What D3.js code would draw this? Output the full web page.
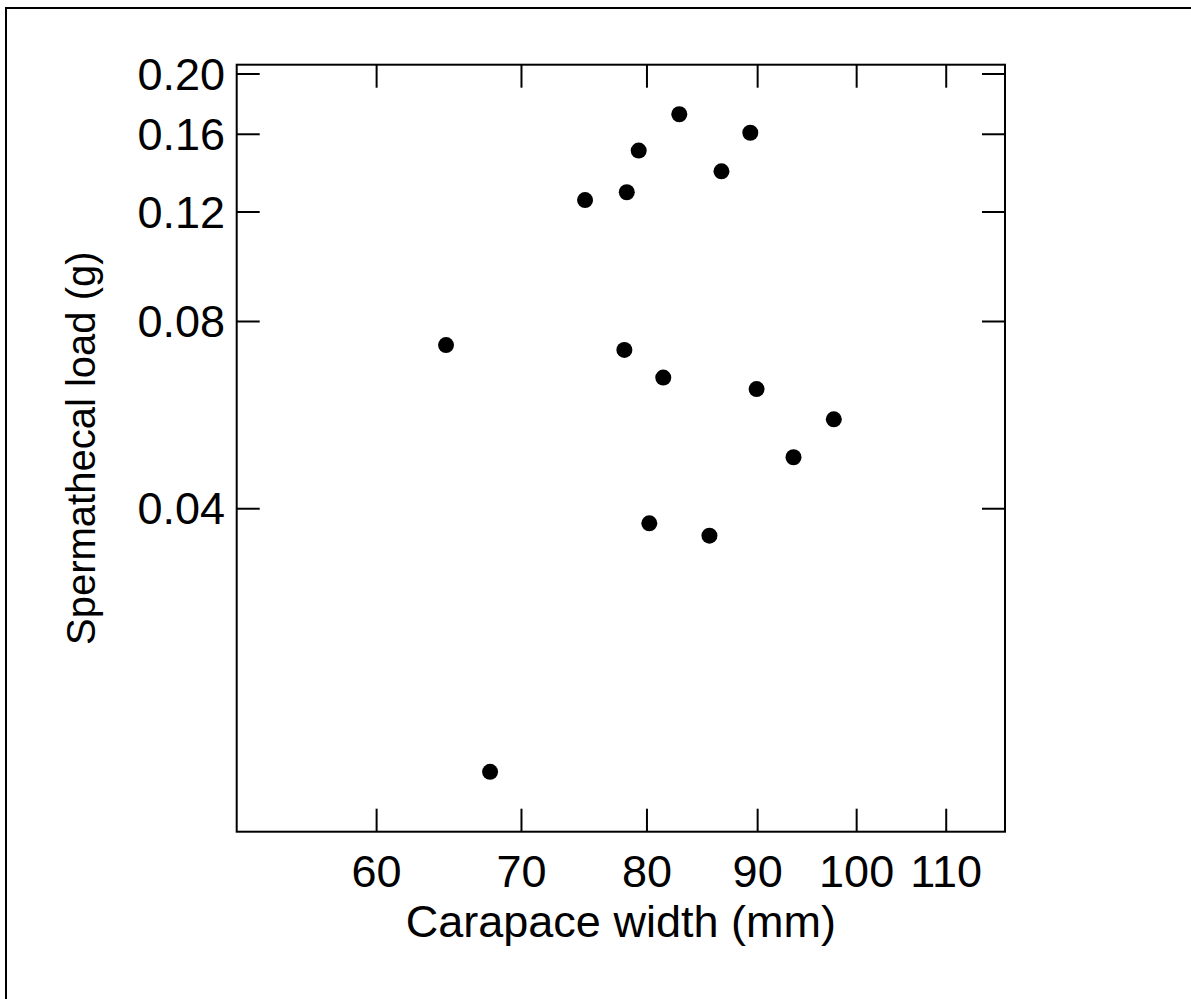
<!DOCTYPE html>
<html>
<head>
<meta charset="utf-8">
<script src="https://cdnjs.cloudflare.com/ajax/libs/d3/7.8.5/d3.min.js"></script>
<style>
  body { margin: 0; background: #fff; }
  svg { display: block; }
  text { font-family: "Liberation Sans", Arial, sans-serif; fill: #000; }
</style>
</head>
<body>
<div class="container"></div>
<script>
const wd = 1191
const ht = 999

// carapace width (mm) and spermathecal load (g)
const widths = [64.6, 78.1, 81.4, 82.8, 89.3, 79.3, 86.6, 78.3, 74.9, 89.9, 97.6, 93.5, 80.2, 85.5, 67.7]
const loads  = [0.0733, 0.0720, 0.0650, 0.1723, 0.1609, 0.1506, 0.1395, 0.1291, 0.1254, 0.0623, 0.0557, 0.0484, 0.0379, 0.0362, 0.0151]

const xTicks = [60, 70, 80, 90, 100, 110]
const yTicks = [0.04, 0.08, 0.12, 0.16, 0.20]

const boxL = 236.7, boxR = 1005, boxT = 64.7, boxB = 831.7
const tickLen = 23
const fontSize = "45px"

const xScale = d3.scaleLog()
  .domain([51.7, 117.1])
  .range([boxL, boxR])

const yScale = d3.scaleLog()
  .domain([0.0121, 0.207])
  .range([boxB, boxT])

const svgC = d3.select(".container").append("svg")
  .attr("width", wd)
  .attr("height", ht)

// outer frame
svgC.append("rect")
  .attr("x", 6).attr("y", 8)
  .attr("width", 1400).attr("height", 1200)
  .attr("fill", "none")
  .attr("stroke", "#000")
  .attr("stroke-width", 2)

// plot box
svgC.append("rect")
  .attr("x", boxL).attr("y", boxT)
  .attr("width", boxR - boxL).attr("height", boxB - boxT)
  .attr("fill", "none")
  .attr("stroke", "#000")
  .attr("stroke-width", 2)

const tickG = svgC.append("g")
  .attr("stroke", "#000")
  .attr("stroke-width", 2)

xTicks.forEach((t) => {
  let x = xScale(t)
  tickG.append("line").attr("x1", x).attr("x2", x).attr("y1", boxB).attr("y2", boxB - tickLen)
  tickG.append("line").attr("x1", x).attr("x2", x).attr("y1", boxT).attr("y2", boxT + tickLen)
})

yTicks.forEach((t) => {
  let y = yScale(t)
  tickG.append("line").attr("x1", boxL).attr("x2", boxL + tickLen).attr("y1", y).attr("y2", y)
  tickG.append("line").attr("x1", boxR).attr("x2", boxR - tickLen).attr("y1", y).attr("y2", y)
})

// tick labels
svgC.append("g").selectAll("text")
  .data(xTicks)
  .enter()
  .append("text")
  .attr("x", (d) => xScale(d))
  .attr("y", 887)
  .attr("text-anchor", "middle")
  .style("font-size", fontSize)
  .text((d) => d)

svgC.append("g").selectAll("text")
  .data(yTicks)
  .enter()
  .append("text")
  .attr("x", 225)
  .attr("y", (d) => yScale(d))
  .attr("dy", "0.35em")
  .attr("text-anchor", "end")
  .style("font-size", fontSize)
  .text((d) => d3.format(".2f")(d))

// axis titles
svgC.append("text")
  .attr("x", (boxL + boxR) / 2)
  .attr("y", 937)
  .attr("text-anchor", "middle")
  .style("font-size", fontSize)
  .text("Carapace width (mm)")

svgC.append("text")
  .attr("transform", "translate(95," + (boxT + boxB) / 2 + ") rotate(-90)")
  .attr("text-anchor", "middle")
  .style("font-size", "40px")
  .text("Spermathecal load (g)")

// points
svgC.append("g").selectAll("circle")
  .data(widths.map((w, i) => [w, loads[i]]))
  .enter()
  .append("circle")
  .attr("cx", (d) => xScale(d[0]))
  .attr("cy", (d) => yScale(d[1]))
  .attr("r", 8)
  .attr("fill", "#000")
</script>
</body>
</html>
